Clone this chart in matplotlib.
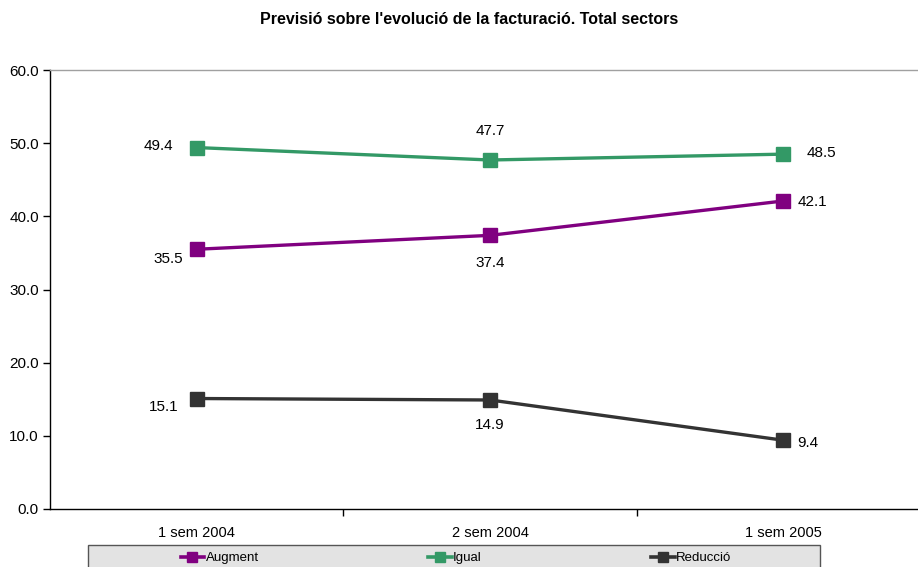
import matplotlib
matplotlib.use("Agg")
import matplotlib.pyplot as plt
from matplotlib.patches import Rectangle
from matplotlib.lines import Line2D

plt.rcParams['font.family'] = ['Liberation Sans', 'DejaVu Sans']

categories = ["1 sem 2004", "2 sem 2004", "1 sem 2005"]
augment = [35.5, 37.4, 42.1]
igual = [49.4, 47.7, 48.5]
reduccio = [15.1, 14.9, 9.4]
series_names = ["Augment", "Igual", "Reducció"]
colors = ["#800080", "#339966", "#333333"]
yticks = [0, 10, 20, 30, 40, 50, 60]

W, H = 918, 567
fig = plt.figure(figsize=(W / 100, H / 100), dpi=100)
# axes: left x=50, right x=930 (beyond edge), y0 at 509, y60 at 70
ax = fig.add_axes([50 / W, 1 - 509 / H, 880 / W, (509 - 70) / H])

x = list(range(len(categories)))
series = [augment, igual, reduccio]
for vals, c, name in zip(series, colors, series_names):
    ax.plot(x, vals, color=c, lw=2.4, marker='s', markersize=9.5, label=name,
            solid_joinstyle='miter')

ax.set_xlim(-0.5, 2.5)
ax.set_ylim(0, 60)
ax.set_yticks(yticks)
ax.set_yticklabels([f"{v:.1f}" for v in yticks], fontsize=11)
ax.set_xticks([0.5, 1.5])
ax.set_xticklabels([])
ax.tick_params(axis='x', direction='out', length=5, width=1, colors='black')
ax.tick_params(axis='y', direction='out', length=5, width=1, colors='black', pad=3)
for i, cat in enumerate(categories):
    ax.text(i, -2.3, cat, ha='center', va='top', fontsize=10.5)

ax.spines['left'].set_color('black')
ax.spines['bottom'].set_color('black')
ax.spines['top'].set_color('#a0a0a0')
ax.spines['right'].set_color('#a0a0a0')
for s in ax.spines.values():
    s.set_linewidth(1)

# data labels (offsets in points)
fs = 11
def lab(xi, v, dx, dy, ha='center'):
    ax.annotate(f"{v:.1f}", (xi, v), xytext=(dx, dy), textcoords='offset points',
                ha=ha, va='center', fontsize=fs)

lab(0, augment[0], -10, -7, 'right')
lab(1, augment[1], 0, -20)
lab(2, augment[2], 10, -1, 'left')
lab(0, igual[0], -17, 1, 'right')
lab(1, igual[1], 0, 21)
lab(2, igual[2], 17, 1, 'left')
lab(0, reduccio[0], -13, -6, 'right')
lab(1, reduccio[1], 0, -18)
lab(2, reduccio[2], 10, -2, 'left')

fig.text(469 / W, 1 - 19 / H, "Previsió sobre l'evolució de la facturació. Total sectors",
         ha='center', va='center', fontsize=11.5, fontweight='bold')

# legend box
fig.patches.append(Rectangle((88 / W, -0.02), (820 - 88) / W, (567 - 545) / H + 0.02,
                             transform=fig.transFigure, facecolor='#e3e3e3',
                             edgecolor='#555555', lw=1, zorder=0))
handles = [Line2D([0], [0], color=c, lw=2.6, marker='s', markersize=6.5) for c in colors]
leg = fig.legend(handles, series_names, loc='center', ncol=3,
                 bbox_to_anchor=(456 / W, 1 - 558 / H), frameon=False,
                 fontsize=9.5, handlelength=1.8, handletextpad=0.12,
                 columnspacing=12.8, borderpad=0)

fig.savefig("out.png", dpi=100)
